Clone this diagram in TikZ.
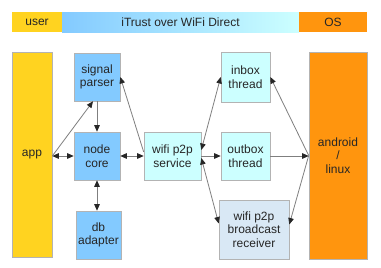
\documentclass[tikz,border=0pt]{standalone}
\usepackage{fontspec}
\setmainfont{Liberation Sans}
\usetikzlibrary{arrows.meta}

\definecolor{userYellow}{HTML}{FFD320}
\definecolor{osOrange}{HTML}{FF950E}
\definecolor{coreBlue}{HTML}{83CAFF}
\definecolor{paleCyan}{HTML}{CCFFFF}
\definecolor{paleSteel}{HTML}{D9E8F5}
\definecolor{edgeGray}{HTML}{B3B3B3}
\definecolor{lineGray}{HTML}{7F7F7F}

\tikzset{
  box/.style={draw=edgeGray, line width=0.6pt, inner sep=0pt, align=center,
    font=\fontsize{12}{13.5}\selectfont, text=black!85},
  band/.style={inner sep=0pt, align=center,
    font=\fontsize{12}{13.5}\selectfont, text=black!85},
  link/.style={draw=lineGray, line width=0.8pt,
    >={Triangle[length=6.5pt,width=5.5pt,color=black!85]}},
}

\begin{document}
\begin{tikzpicture}[x=1pt,y=-1pt]
  \useasboundingbox (0,0) rectangle (381,268);
  \fill[white] (0,0) rectangle (381,268);

  % header band: layers
  \node[band, fill=userYellow, minimum width=50pt, minimum height=20pt] (user) at (37,22) {user};
  \node[band, left color=coreBlue, right color=paleCyan, minimum width=237pt, minimum height=20pt] (itrust) at (180.5,22) {iTrust over WiFi Direct};
  \node[band, fill=osOrange, minimum width=68pt, minimum height=20pt] (os) at (333,22) {OS};

  % components
  \node[box, fill=userYellow, minimum width=40pt, minimum height=205pt] (app) at (32,154.5) {app};
  \node[box, fill=coreBlue, minimum width=46pt, minimum height=48pt] (parser) at (97,77) {signal\\parser};
  \node[box, fill=coreBlue, minimum width=46pt, minimum height=48pt] (core) at (97,156) {node\\core};
  \node[box, fill=coreBlue, minimum width=45pt, minimum height=48pt] (db) at (98.5,235) {db\\adapter};
  \node[box, fill=paleCyan, minimum width=57pt, minimum height=48pt] (service) at (172.5,156) {wifi p2p\\service};
  \node[box, fill=paleCyan, minimum width=49pt, minimum height=50pt] (inbox) at (245.5,77) {inbox\\thread};
  \node[box, fill=paleCyan, minimum width=49pt, minimum height=48pt] (outbox) at (245.5,156) {outbox\\thread};
  \node[box, fill=paleSteel, minimum width=70pt, minimum height=59pt] (receiver) at (254,229.5) {wifi p2p\\broadcast\\receiver};
  \node[box, fill=osOrange, minimum width=58pt, minimum height=207pt] (android) at (338,155.5) {android\\/\\linux};

  % connectors
  \draw[link, <->] (core.west -| app.east) -- (core.west);
  \draw[link, ->] (core.west -| app.east) -- ([xshift=-4pt]parser.south);
  \draw[link, ->] (parser.south) -- (core.north);
  \draw[link, <->] (core.south) -- (core.south |- db.north);
  \draw[link, <->] (core.east) -- (service.west);
  \draw[link, ->] ([yshift=4pt]service.west) -- (parser.east);
  \draw[link, <->] ([yshift=6pt]service.east) -- (inbox.west);
  \draw[link, ->] (service.east) -- (outbox.west);
  \draw[link, <->] ([yshift=-2pt]service.east) -- ([yshift=6pt]receiver.west);
  \draw[link, ->] (android.west) -- (inbox.east);
  \draw[link, ->] (outbox.east) -- (outbox.east -| android.west);
  \draw[link, ->] (android.west) -- ([yshift=5pt]receiver.east);
\end{tikzpicture}
\end{document}
